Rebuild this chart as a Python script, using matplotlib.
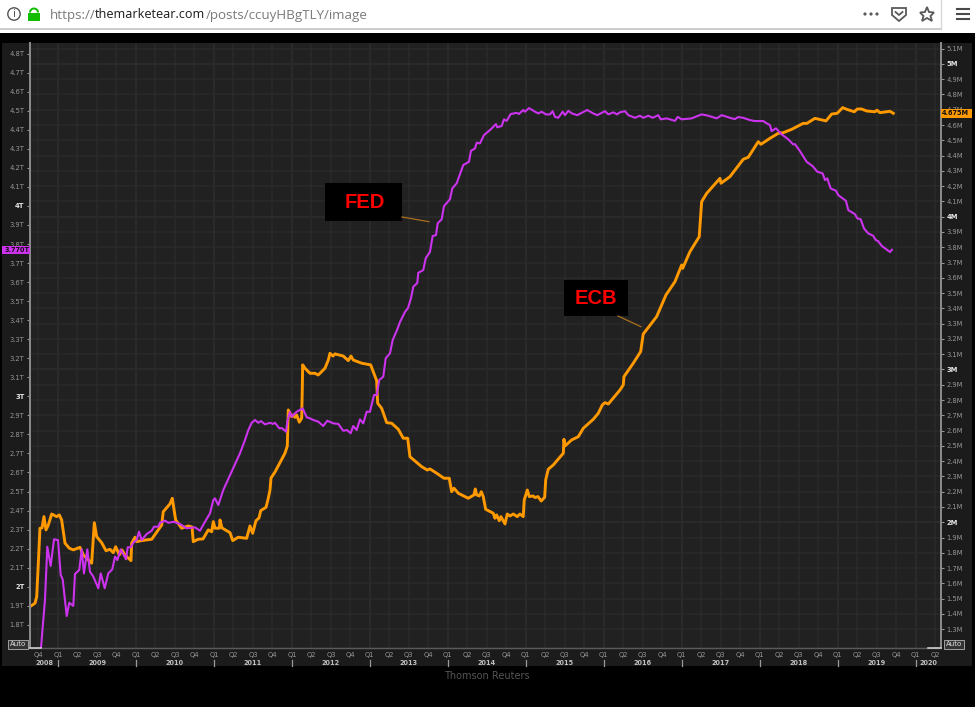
#Importing the libraries
import matplotlib
matplotlib.use('Agg')
import matplotlib.pyplot as plt
from matplotlib.patches import Rectangle, Circle, Wedge, Polygon

# central bank balance sheets
fed_years = [2008.782, 2008.804, 2008.833, 2008.863, 2008.906, 2008.949, 2009.000, 2009.035, 2009.060, 2009.112,
    2009.145, 2009.196, 2009.218, 2009.273, 2009.304, 2009.333, 2009.376, 2009.410, 2009.453, 2009.517,
    2009.548, 2009.599, 2009.645, 2009.696, 2009.731, 2009.761, 2009.804, 2009.872, 2009.894, 2009.932,
    2009.975, 2010.009, 2010.039, 2010.073, 2010.138, 2010.202, 2010.231, 2010.286, 2010.308, 2010.372,
    2010.415, 2010.488, 2010.565, 2010.651, 2010.757, 2010.821, 2010.885, 2010.949, 2010.992, 2011.014,
    2011.056, 2011.120, 2011.334, 2011.398, 2011.441, 2011.484, 2011.527, 2011.569, 2011.603, 2011.655,
    2011.719, 2011.757, 2011.783, 2011.838, 2011.873, 2011.924, 2011.946, 2011.975, 2011.997, 2012.061,
    2012.138, 2012.190, 2012.232, 2012.274, 2012.338, 2012.402, 2012.454, 2012.531, 2012.595, 2012.659,
    2012.706, 2012.754, 2012.787, 2012.831, 2012.873, 2012.915, 2012.959, 2013.001, 2013.053, 2013.087,
    2013.121, 2013.172, 2013.203, 2013.258, 2013.293, 2013.348, 2013.386, 2013.450, 2013.489, 2013.527,
    2013.557, 2013.608, 2013.621, 2013.685, 2013.716, 2013.771, 2013.805, 2013.848, 2013.870, 2013.921,
    2013.950, 2014.027, 2014.057, 2014.113, 2014.198, 2014.271, 2014.297, 2014.348, 2014.370, 2014.412,
    2014.463, 2014.549, 2014.617, 2014.634, 2014.690, 2014.720, 2014.755, 2014.806, 2014.883, 2014.912,
    2014.967, 2014.989, 2015.041, 2015.118, 2015.160, 2015.203, 2015.259, 2015.310, 2015.344, 2015.374,
    2015.416, 2015.473, 2015.502, 2015.545, 2015.592, 2015.660, 2015.729, 2015.788, 2015.865, 2015.917,
    2016.015, 2016.058, 2016.122, 2016.169, 2016.208, 2016.272, 2016.314, 2016.400, 2016.464, 2016.506,
    2016.571, 2016.627, 2016.699, 2016.730, 2016.807, 2016.913, 2016.948, 2016.999, 2017.127, 2017.255,
    2017.340, 2017.448, 2017.512, 2017.618, 2017.682, 2017.721, 2017.789, 2017.875, 2017.939, 2018.045,
    2018.089, 2018.131, 2018.153, 2018.208, 2018.281, 2018.366, 2018.430, 2018.452, 2018.516, 2018.602,
    2018.679, 2018.738, 2018.807, 2018.837, 2018.866, 2018.910, 2018.978, 2019.007, 2019.106, 2019.136,
    2019.221, 2019.251, 2019.295, 2019.337, 2019.392, 2019.456, 2019.487, 2019.517, 2019.568, 2019.619,
    2019.670, 2019.696]
fed_values = [1.678, 1.790, 1.930, 2.210, 2.109, 2.249, 2.245, 2.061, 2.039, 1.846,
    1.916, 1.899, 2.067, 2.088, 2.196, 2.070, 2.196, 2.079, 2.053, 1.992,
    2.070, 1.992, 2.070, 2.091, 2.158, 2.140, 2.196, 2.144, 2.207, 2.207,
    2.236, 2.245, 2.289, 2.245, 2.277, 2.294, 2.315, 2.315, 2.336, 2.347,
    2.336, 2.341, 2.329, 2.307, 2.312, 2.294, 2.341, 2.385, 2.455, 2.464,
    2.429, 2.508, 2.701, 2.770, 2.823, 2.861, 2.876, 2.861, 2.870, 2.853,
    2.861, 2.855, 2.861, 2.832, 2.833, 2.814, 2.876, 2.919, 2.893, 2.919,
    2.937, 2.890, 2.884, 2.876, 2.867, 2.844, 2.872, 2.858, 2.855, 2.819,
    2.823, 2.806, 2.844, 2.823, 2.879, 2.858, 2.919, 2.919, 3.007, 3.007,
    3.086, 3.103, 3.200, 3.226, 3.296, 3.348, 3.390, 3.443, 3.464, 3.515,
    3.576, 3.595, 3.649, 3.663, 3.725, 3.759, 3.842, 3.847, 3.909, 3.930,
    3.999, 4.035, 4.092, 4.119, 4.215, 4.232, 4.290, 4.302, 4.332, 4.329,
    4.372, 4.402, 4.430, 4.413, 4.420, 4.455, 4.447, 4.483, 4.489, 4.483,
    4.504, 4.495, 4.514, 4.495, 4.486, 4.495, 4.481, 4.481, 4.498, 4.468,
    4.463, 4.495, 4.477, 4.500, 4.486, 4.477, 4.492, 4.504, 4.486, 4.477,
    4.498, 4.481, 4.492, 4.481, 4.492, 4.498, 4.477, 4.463, 4.474, 4.463,
    4.474, 4.463, 4.477, 4.455, 4.460, 4.447, 4.468, 4.455, 4.460, 4.481,
    4.474, 4.460, 4.477, 4.463, 4.456, 4.467, 4.463, 4.451, 4.446, 4.446,
    4.434, 4.425, 4.393, 4.408, 4.376, 4.350, 4.323, 4.325, 4.288, 4.232,
    4.209, 4.180, 4.171, 4.136, 4.145, 4.092, 4.080, 4.057, 4.027, 3.978,
    3.957, 3.935, 3.930, 3.882, 3.856, 3.843, 3.821, 3.816, 3.789, 3.774,
    3.758, 3.770]

ecb_years = [2008.641, 2008.705, 2008.727, 2008.769, 2008.795, 2008.820, 2008.846, 2008.876, 2008.919, 2008.983,
    2009.017, 2009.047, 2009.090, 2009.145, 2009.196, 2009.282, 2009.324, 2009.432, 2009.466, 2009.496,
    2009.560, 2009.616, 2009.667, 2009.709, 2009.740, 2009.786, 2009.821, 2009.859, 2009.936, 2009.945,
    2009.988, 2010.009, 2010.073, 2010.202, 2010.286, 2010.330, 2010.350, 2010.436, 2010.466, 2010.509,
    2010.586, 2010.671, 2010.719, 2010.735, 2010.799, 2010.860, 2010.928, 2010.971, 2010.992, 2011.014,
    2011.069, 2011.078, 2011.103, 2011.164, 2011.206, 2011.241, 2011.312, 2011.420, 2011.462, 2011.497,
    2011.539, 2011.578, 2011.600, 2011.668, 2011.697, 2011.719, 2011.732, 2011.783, 2011.869, 2011.911,
    2011.941, 2011.954, 2011.997, 2012.018, 2012.039, 2012.061, 2012.095, 2012.125, 2012.133, 2012.138,
    2012.168, 2012.232, 2012.296, 2012.338, 2012.424, 2012.467, 2012.488, 2012.527, 2012.552, 2012.659,
    2012.723, 2012.758, 2012.787, 2012.895, 2013.010, 2013.087, 2013.100, 2013.151, 2013.216, 2013.280,
    2013.364, 2013.428, 2013.485, 2013.514, 2013.579, 2013.664, 2013.736, 2013.771, 2013.857, 2013.950,
    2014.018, 2014.049, 2014.079, 2014.134, 2014.262, 2014.335, 2014.352, 2014.370, 2014.403, 2014.429,
    2014.454, 2014.485, 2014.583, 2014.604, 2014.626, 2014.660, 2014.681, 2014.733, 2014.762, 2014.797,
    2014.839, 2014.890, 2014.925, 2014.967, 2014.980, 2015.019, 2015.044, 2015.092, 2015.118, 2015.156,
    2015.198, 2015.242, 2015.255, 2015.288, 2015.352, 2015.481, 2015.489, 2015.502, 2015.588, 2015.673,
    2015.737, 2015.865, 2015.929, 2015.981, 2016.015, 2016.058, 2016.208, 2016.250, 2016.259, 2016.378,
    2016.473, 2016.506, 2016.678, 2016.798, 2016.913, 2016.999, 2017.012, 2017.105, 2017.224, 2017.255,
    2017.320, 2017.490, 2017.503, 2017.618, 2017.789, 2017.853, 2017.981, 2018.016, 2018.131, 2018.238,
    2018.302, 2018.410, 2018.558, 2018.606, 2018.708, 2018.850, 2018.923, 2018.994, 2019.064, 2019.115,
    2019.213, 2019.251, 2019.307, 2019.371, 2019.478, 2019.504, 2019.542, 2019.628, 2019.670, 2019.713]
ecb_values = [1.448, 1.470, 1.513, 1.961, 1.963, 2.037, 1.950, 1.982, 2.054, 2.037,
    2.048, 2.015, 1.863, 1.830, 1.819, 1.836, 1.786, 1.732, 1.997, 1.906,
    1.866, 1.814, 1.823, 1.801, 1.840, 1.786, 1.819, 1.786, 1.749, 1.863,
    1.902, 1.873, 1.880, 1.889, 1.950, 1.982, 2.069, 2.120, 2.157, 2.015,
    1.961, 1.976, 1.969, 1.873, 1.889, 1.891, 1.950, 1.938, 2.004, 1.961,
    1.961, 2.015, 1.963, 1.945, 1.932, 1.880, 1.902, 1.895, 1.976, 1.928,
    2.010, 2.028, 2.076, 2.098, 2.157, 2.211, 2.290, 2.329, 2.412, 2.452,
    2.499, 2.735, 2.691, 2.702, 2.687, 2.702, 2.655, 2.681, 2.866, 3.030,
    3.008, 2.975, 2.975, 2.964, 3.008, 3.062, 3.106, 3.088, 3.102, 3.088,
    3.058, 3.088, 3.062, 3.041, 3.030, 2.927, 2.779, 2.746, 2.652, 2.648,
    2.609, 2.550, 2.550, 2.429, 2.401, 2.364, 2.342, 2.349, 2.321, 2.288,
    2.288, 2.200, 2.223, 2.190, 2.157, 2.179, 2.218, 2.179, 2.172, 2.200,
    2.168, 2.085, 2.059, 2.026, 2.048, 2.010, 2.037, 1.989, 2.054, 2.041,
    2.054, 2.037, 2.054, 2.037, 2.146, 2.211, 2.168, 2.172, 2.162, 2.168,
    2.139, 2.164, 2.277, 2.347, 2.375, 2.452, 2.543, 2.499, 2.539, 2.560,
    2.615, 2.674, 2.713, 2.768, 2.783, 2.774, 2.866, 2.899, 2.953, 3.041,
    3.117, 3.232, 3.346, 3.488, 3.575, 3.684, 3.662, 3.771, 3.869, 4.098,
    4.153, 4.251, 4.219, 4.262, 4.376, 4.389, 4.491, 4.474, 4.513, 4.546,
    4.550, 4.572, 4.611, 4.611, 4.644, 4.627, 4.672, 4.677, 4.714, 4.703,
    4.687, 4.705, 4.705, 4.692, 4.687, 4.697, 4.681, 4.687, 4.690, 4.677]

left_ticks = [v / 10 for v in range(18, 49)]
right_ticks = [v / 10 for v in range(13, 52)]
years = list(range(2009, 2021))
year_names = ['2008', '2009', '2010', '2011', '2012', '2013', '2014', '2015', '2016', '2017', '2018', '2019', '2020']
quarter_ticks = [2008.75 + k * 0.25 for k in range(47)]
quarter_names = ['Q4', 'Q1', 'Q2', 'Q3'] * 11 + ['Q4', 'Q1', 'Q2']

ORANGE = '#ff9900'
PURPLE = '#cc33ee'
PANEL = '#1b1b1b'
PLOT = '#212121'
GRID = '#2a2a2a'
GRID_BIG = '#2c2c2c'
SPINE = '#8a8a8a'
FAINT = '#969696'
BRIGHT = '#e4e4e4'
SMALL = 4.9


def tick_name(v, unit):
    if abs(v - round(v)) < 1e-6:
        return '%d%s' % (round(v), unit)
    return '%.1f%s' % (v, unit)


def style_ticks(axis_ticks, ticks):
    # whole numbers are bold and white on these terminals
    for lab, v in zip(axis_ticks, ticks):
        if abs(v - round(v)) < 1e-6:
            lab.set_color(BRIGHT)
            lab.set_fontweight('bold')


fig = plt.figure(figsize=(9.75, 7.07), dpi=100, facecolor='black')

# pixel canvas underneath, for the terminal panel
under = fig.add_axes([0, 0, 1, 1], zorder=-1)
under.set_xlim(0, 975)
under.set_ylim(707, 0)
under.axis('off')
under.add_patch(Rectangle((2, 43), 970, 623, fc=PANEL, ec='none'))

ax = fig.add_axes([30 / 975, 1 - 648.3 / 707, 911 / 975, 605.3 / 707])
ax2 = ax.twinx()
ax.set_zorder(2)
ax2.set_zorder(1)
ax.patch.set_visible(False)
ax2.patch.set_visible(True)
ax2.set_facecolor(PLOT)

ax.set_xlim(2008.641, 2020.325)
ax.set_ylim(1.6765, 4.856)
ax2.set_ylim(1.175, 5.137)

ax2.plot(ecb_years, ecb_values, color=ORANGE, lw=2.1, solid_joinstyle='round', zorder=3)
ax.plot(fed_years, fed_values, color=PURPLE, lw=1.5, solid_joinstyle='round', zorder=3)

# grid comes from the right hand axis and the quarters
ax.set_xticks(quarter_ticks)
ax.set_xticklabels(quarter_names, fontsize=SMALL, color=FAINT)
ax.tick_params(axis='x', length=0, pad=2.5)
ax2.xaxis.set_visible(True)
ax2.tick_params(axis='x', labelbottom=False, length=0)
ax2.set_axisbelow(True)
ax2.grid(True, axis='both', color=GRID, lw=1.1)
for y in years:
    ax2.axvline(y, color=GRID_BIG, lw=1.5, zorder=0.5)
for m in [2, 3, 4, 5]:
    ax2.axhline(m, color=GRID_BIG, lw=1.5, zorder=0.5)

ax.set_yticks(left_ticks)
ax.set_yticklabels([tick_name(v, 'T') for v in left_ticks], fontsize=SMALL, color=FAINT)
ax.tick_params(axis='y', length=2.5, width=0.8, color=FAINT, pad=1.5)
style_ticks(ax.get_yticklabels(), left_ticks)

ax2.set_yticks(right_ticks)
ax2.set_yticklabels([tick_name(v, 'M') for v in right_ticks], fontsize=SMALL, color=FAINT)
ax2.tick_params(axis='y', length=2.5, width=0.8, color=FAINT, pad=1.5)
style_ticks(ax2.get_yticklabels(), right_ticks)

for a in [ax, ax2]:
    a.spines['top'].set_visible(False)
    a.spines['bottom'].set_color('#5a5a5a')
    a.spines['bottom'].set_linewidth(0.9)
    a.spines['left'].set_color(SPINE)
    a.spines['left'].set_linewidth(1.4)
    a.spines['right'].set_color(SPINE)
    a.spines['right'].set_linewidth(1.4)

# year row under the quarters
xt = ax.get_xaxis_transform()
for y in years:
    ax.plot([y, y], [-0.0193, -0.029], color='#9a9a9a', lw=0.9, transform=xt, clip_on=False)
year_mids = [(2008.641 + 2009) / 2] + [y + 0.5 for y in years[:-1]] + [(2020 + 2020.325) / 2]
for ym, name in zip(year_mids, year_names):
    ax.text(ym, -0.0245, name, transform=xt, ha='center', va='center', fontsize=4.7,
            fontweight='bold', color='#c0c0c0', clip_on=False)

# pixel canvas on top: labels, boxes, browser bar
ov = fig.add_axes([0, 0, 1, 1], zorder=10)
ov.set_xlim(0, 975)
ov.set_ylim(707, 0)
ov.axis('off')

ov.plot([30, 41], [648.3, 648.3], color='#d8d8d8', lw=1.1)
ov.plot([928, 941], [648.3, 648.3], color='#d8d8d8', lw=1.1)
for bx in [9.5, 945.5]:
    ov.text(bx + 8.5, 644.5, 'Auto', ha='center', va='center', fontsize=5, color='#e0e0e0',
            bbox=dict(boxstyle='square,pad=0.2', fc='#333333', ec='#a0a0a0', lw=0.7))

ov.add_patch(Rectangle((2, 246), 28, 8, fc=PURPLE, ec='none'))
ov.text(29.5, 250, '3.770T', ha='right', va='center', fontsize=4.7, fontweight='bold', color='#111111')
ov.add_patch(Rectangle((941, 109), 31, 8.5, fc=ORANGE, ec='none'))
ov.text(942, 113.3, '4.675M', ha='left', va='center', fontsize=4.7, fontweight='bold', color='#111111')

# hand drawn notes
ov.add_patch(Rectangle((325, 183), 77, 38, fc='black', ec='none'))
ov.text(364.5, 203, 'FED', ha='center', va='center', fontsize=14.5, fontweight='bold',
        family='Liberation Sans', color='#ff0000')
ov.plot([402, 429], [217, 221.7], color='#a8701c', lw=0.9)
ov.add_patch(Rectangle((564, 280), 64, 36, fc='black', ec='none'))
ov.text(595.5, 298, 'ECB', ha='center', va='center', fontsize=14.5, fontweight='bold',
        family='Liberation Sans', color='#ff0000')
ov.plot([618, 641], [316, 326.7], color='#a8701c', lw=0.9)

ov.text(487, 676, 'Thomson Reuters', ha='center', va='center', fontsize=7, color='#555555')

# browser bar
ov.add_patch(Rectangle((0, 0), 975, 33, fc='white', ec='none'))
ov.plot([0, 941], [28.5, 28.5], color='#c4c4c4', lw=1.2)
ov.plot([941, 941], [0, 28.5], color='#d8d8d8', lw=1)
ov.add_patch(Circle((14, 14), 6.2, fc='white', ec='#555555', lw=1))
ov.text(14, 14.3, 'i', ha='center', va='center', fontsize=7.5, color='#555555')
ov.add_patch(Rectangle((28, 13), 12, 8, fc='#12bc00', ec='none'))
ov.add_patch(Wedge((34, 12.5), 5, 180, 360, width=2, fc='#12bc00', ec='none'))
ov.text(50, 15, 'https://', ha='left', va='center', fontsize=9.6, family='Open Sans', color='#7a7a7a')
ov.text(95, 15, 'themarketear.com', ha='left', va='center', fontsize=9.1, family='Open Sans', color='#1a1a1a')
ov.text(206, 15, '/posts/ccuyHBgTLY/image', ha='left', va='center', fontsize=9.6, family='Open Sans', color='#7a7a7a')
for dx in [865, 871, 877]:
    ov.add_patch(Circle((dx, 14), 1.6, fc='#5a5a5a', ec='none'))
ov.add_patch(Polygon([(892, 8), (906, 8), (906, 15), (899, 21), (892, 15)], closed=True, fc='white', ec='#5a5a5a', lw=1.3))
ov.plot([895.5, 899, 902.5], [12, 15, 12], color='#5a5a5a', lw=1.3)
ov.add_patch(Polygon([(927, 7), (929, 12), (934, 12.5), (930.5, 16), (932, 21), (927, 18), (922, 21),
                      (923.5, 16), (920, 12.5), (925, 12)], closed=True, fc='white', ec='#5a5a5a', lw=1.3))
for hy in [9.3, 14, 19]:
    ov.plot([957, 969], [hy, hy], color='#4a4a4a', lw=1.5)

fig.savefig('out.png', dpi=100, facecolor='black')
